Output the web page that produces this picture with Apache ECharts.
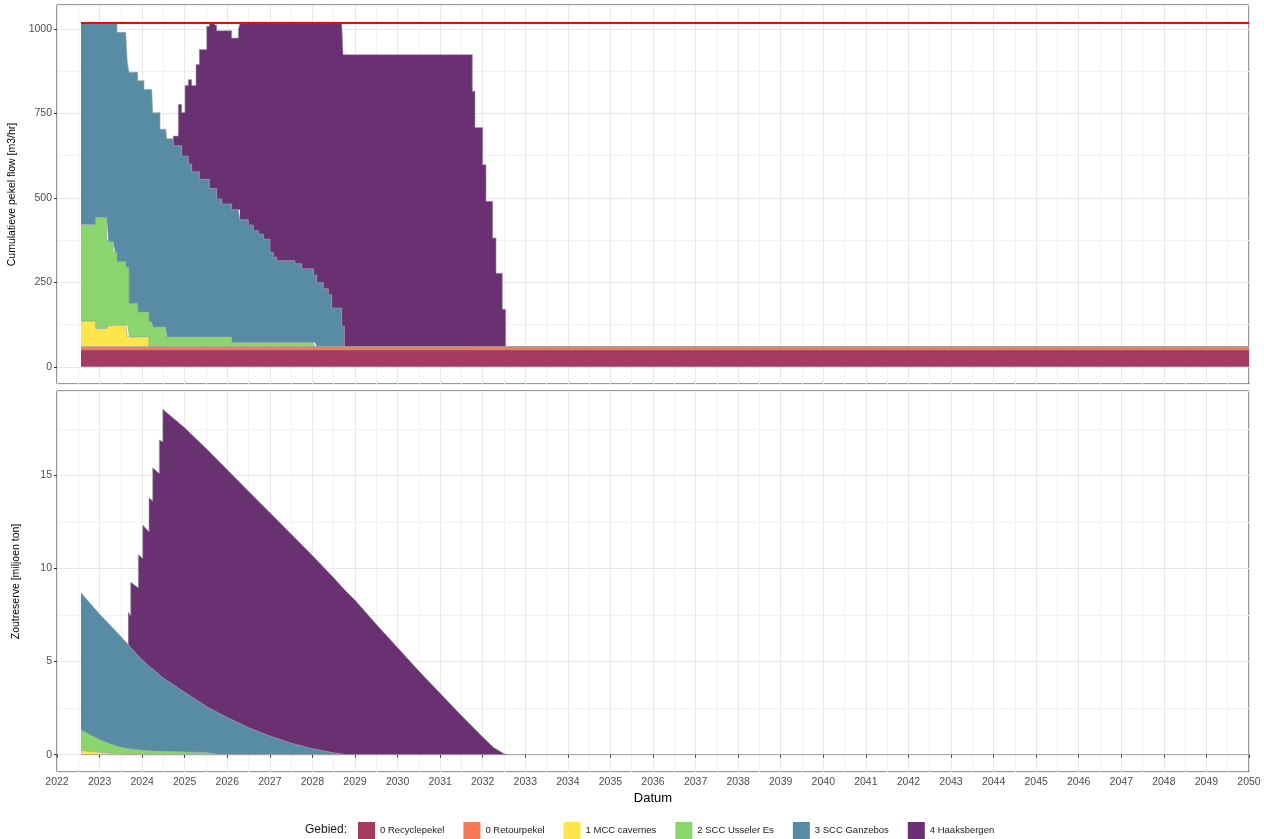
<!DOCTYPE html>
<html lang="nl">
<head>
<meta charset="utf-8" />
<title>Cumulatieve pekel flow en zoutreserve</title>
<script src="https://cdn.jsdelivr.net/npm/echarts@6.0.0/dist/echarts.min.js"></script>
<style>
  html, body { margin: 0; padding: 0; background: #ffffff; }
  #chart { width: 1264px; height: 839px; }
</style>
</head>
<body>
<div id="chart"></div>
<script>
const FONT = "Liberation Sans, Arial, sans-serif";

// gebieden, in volgorde van stapelen (onder -> boven)
const gebieden = ["0 Recyclepekel", "0 Retourpekel", "1 MCC cavernes", "2 SCC Usseler Es", "3 SCC Ganzebos", "4 Haaksbergen"];
const kleuren = ["#a53a60", "#f57a58", "#fde64b", "#8bd56e", "#588ca5", "#693172"];

// bovenste paneel: pekel flow [m3/hr]
// [jaar, flow] -> flow geldt tot het volgende jaartal; laatste punt = einde
const flowRecycle = [[2022.564, 50], [2050, 50]];
const flowRetour = [[2022.564, 10], [2050, 10]];
const flowMcc = [[2022.564, 75], [2022.909, 53], [2023.167, 61], [2023.362, 63], [2023.65, 28.5], [2024.161, 0]];
const flowUsseler = [
  [2022.564, 286], [2022.909, 329], [2023.167, 257], [2023.205, 249], [2023.322, 218], [2023.362, 216],
  [2023.41, 188], [2023.614, 172], [2023.65, 206.5], [2023.691, 98.5], [2023.895, 73.5], [2024.161, 73],
  [2024.225, 58], [2024.554, 28.5], [2026.104, 12], [2028.06, 0]
];
const flowGanzebos = [
  [2022.564, 597], [2022.909, 576], [2023.167, 640], [2023.205, 648], [2023.322, 679], [2023.614, 695],
  [2023.65, 609], [2023.691, 685], [2024.044, 659], [2024.161, 688], [2024.225, 703], [2024.248, 634],
  [2024.42, 585], [2024.554, 614.5], [2024.577, 586.5], [2024.732, 565.5], [2024.929, 535.5], [2025.084, 511.5],
  [2025.164, 488.5], [2025.343, 466.5], [2025.578, 439.5], [2025.752, 408.5], [2025.869, 393.5], [2026.104, 393],
  [2026.299, 363], [2026.494, 348], [2026.611, 331], [2026.729, 321], [2026.846, 306], [2027.004, 267],
  [2027.081, 253], [2027.161, 242], [2027.591, 233], [2027.748, 218], [2028.021, 200], [2028.06, 212],
  [2028.101, 189], [2028.256, 171], [2028.373, 153], [2028.453, 114], [2028.688, 60], [2028.749, 0]
];
const flowHaaksbergen = [
  [2024.732, 29], [2024.849, 123], [2024.929, 129], [2025.007, 209], [2025.084, 250], [2025.164, 256],
  [2025.265, 318], [2025.343, 384], [2025.517, 453], [2025.578, 490], [2025.705, 484], [2025.752, 498],
  [2025.869, 513], [2026.104, 508], [2026.259, 533], [2026.299, 583], [2026.494, 598], [2026.611, 615],
  [2026.729, 625], [2026.846, 640], [2027.004, 679], [2027.081, 693], [2027.161, 704], [2027.591, 713],
  [2027.748, 728], [2028.021, 746], [2028.101, 769], [2028.256, 787], [2028.373, 805], [2028.453, 844],
  [2028.688, 898], [2028.72, 804], [2028.749, 864], [2031.756, 756], [2031.819, 648], [2032.0, 538],
  [2032.078, 430], [2032.235, 321], [2032.313, 217], [2032.461, 110], [2032.54, 0]
];
const capaciteit = [[2022.564, 1018], [2050, 1018]];

// onderste paneel: zoutreserve [miljoen ton]
const reserveJaren = [
  2022.564, 2022.75, 2023.0, 2023.25, 2023.5, 2023.675, 2023.731, 2023.731, 2023.91, 2023.91,
  2024.013, 2024.013, 2024.161, 2024.161, 2024.248, 2024.248, 2024.403, 2024.403, 2024.485, 2024.485,
  2025.0, 2025.5, 2025.85, 2026.0, 2026.5, 2027.0, 2027.5, 2028.0, 2028.5, 2028.8,
  2029.0, 2029.5, 2030.0, 2030.5, 2031.0, 2031.5, 2032.0, 2032.25, 2032.5, 2032.6
];
const reserveRecycle = [[2022.564, 0], [2050, 0]];
const reserveRetour = [[2022.564, 0], [2050, 0]];
const reserveMcc = [
  0.22, 0.18, 0.13, 0.09, 0.06, 0.05, 0.045, 0.045, 0.035, 0.035,
  0.03, 0.03, 0, 0, null, null, null, null, null, null,
  null, null, null, null, null, null, null, null, null, null,
  null, null, null, null, null, null, null, null, null, null
];
const reserveUsseler = [
  1.12, 0.92, 0.69, 0.49, 0.34, 0.28, 0.265, 0.265, 0.225, 0.225,
  0.21, 0.21, 0.22, 0.22, 0.2, 0.2, 0.19, 0.19, 0.18, 0.18,
  0.15, 0.12, 0, null, null, null, null, null, null, null,
  null, null, null, null, null, null, null, null, null, null
];
const reserveGanzebos = [
  7.35, 7.1, 6.73, 6.37, 5.95, 5.58, 5.44, 5.44, 5.04, 5.04,
  4.83, 4.83, 4.53, 4.53, 4.4, 4.4, 4.11, 4.11, 3.95, 3.95,
  3.2, 2.48, 2.17, 2.0, 1.45, 1.0, 0.62, 0.32, 0.1, 0,
  null, null, null, null, null, null, null, null, null, null
];
const reserveHaaksbergen = [
  null, null, null, null, null, 1.74, 1.72, 3.51, 3.66, 5.45,
  5.47, 7.26, 7.22, 9.05, 9.02, 10.81, 10.8, 12.6, 12.68, 14.42,
  14.2, 13.85, 13.48, 13.3, 12.7, 12.0, 11.23, 10.38, 9.4, 8.75,
  8.3, 7.0, 5.75, 4.5, 3.3, 2.1, 0.95, 0.4, 0.05, 0
];

// asbereik en ticks
const jaarAs = { min: 2022, max: 2050, stap: 1 };
const flowAs = { min: -51, max: 1071, stap: 250 };
const flowTicks = [0, 250, 500, 750, 1000];
const reserveAs = { min: -0.93, max: 19.53, stap: 5 };
const reserveTicks = [0, 5, 10, 15];

// waarde van een stapreeks op een jaartal (null buiten het bereik)
function stapWaarde(stappen, jaar) {
  if (jaar < stappen[0][0] || jaar > stappen[stappen.length - 1][0]) return null;
  let waarde = null;
  for (let i = 0; i < stappen.length && stappen[i][0] <= jaar; i++) {
    waarde = stappen[i][1];
  }
  return waarde;
}

const flowReeksen = [flowRecycle, flowRetour, flowMcc, flowUsseler, flowGanzebos, flowHaaksbergen];
const flowJaren = Array.from(new Set([].concat(...flowReeksen.map((r) => r.map((p) => p[0]))))).sort((a, b) => a - b);

const rand = { color: "#9c9c9c", width: 0.6 };

function xAs(gridIndex, metLabels) {
  return {
    type: "value",
    gridIndex: gridIndex,
    position: "bottom",
    min: jaarAs.min,
    max: jaarAs.max,
    interval: jaarAs.stap,
    name: metLabels ? "Datum" : "",
    nameLocation: "middle",
    nameGap: 20,
    nameTextStyle: { fontSize: 13, color: "#000", fontFamily: FONT },
    axisLine: { show: false },
    axisTick: { show: metLabels, length: 3, lineStyle: { color: "#333" } },
    axisLabel: { show: metLabels, color: "#4d4d4d", fontSize: 10.5, margin: 5, fontFamily: FONT, formatter: (v) => String(v) },
    splitLine: { show: true, lineStyle: { color: "#e8e8e8", width: 1 } },
    minorTick: { show: false, splitNumber: 2 },
    minorSplitLine: { show: true, lineStyle: { color: "#f1f1f1", width: 1 } }
  };
}

// hulpas: alleen de lichte tussenlijnen
function yTussen(gridIndex, bereik) {
  return {
    type: "value",
    gridIndex: gridIndex,
    position: "left",
    min: bereik.min,
    max: bereik.max,
    minInterval: bereik.stap / 2,
    maxInterval: bereik.stap / 2,
    axisLine: { show: false },
    axisTick: { show: false },
    axisLabel: { show: false },
    splitLine: { show: true, lineStyle: { color: "#f1f1f1", width: 1 } }
  };
}

function yAs(gridIndex, bereik, ticks, naam) {
  return {
    type: "value",
    gridIndex: gridIndex,
    position: "left",
    min: bereik.min,
    max: bereik.max,
    minInterval: bereik.stap,
    maxInterval: bereik.stap,
    name: naam,
    nameLocation: "middle",
    nameGap: 35,
    nameTextStyle: { fontSize: 10.5, color: "#000", fontFamily: FONT },
    axisLine: { show: false },
    axisTick: { show: true, length: 3, customValues: ticks, lineStyle: { color: "#333" } },
    axisLabel: {
      show: true,
      customValues: ticks,
      color: "#4d4d4d",
      fontSize: 10.5,
      margin: 5,
      fontFamily: FONT,
      formatter: (v) => (ticks.indexOf(v) >= 0 ? String(v) : "")
    },
    splitLine: { show: true, lineStyle: { color: "#e8e8e8", width: 1 } }
  };
}

const series = [];

// bovenste paneel: gestapelde stappen
flowReeksen.forEach((stappen, i) => {
  series.push({
    name: gebieden[i],
    type: "line",
    xAxisIndex: 0,
    yAxisIndex: 1,
    stack: "flow",
    step: "end",
    symbol: "none",
    color: kleuren[i],
    encode: { x: 1, y: 0 },
    lineStyle: rand,
    areaStyle: { color: kleuren[i], opacity: 1 },
    data: flowJaren.map((j) => [stapWaarde(stappen, j), j])
  });
});
series.push({
  name: "Capaciteit",
  type: "line",
  xAxisIndex: 0,
  yAxisIndex: 1,
  symbol: "none",
  z: 5,
  lineStyle: { color: "#ff0000", width: 2 },
  data: capaciteit
});

// onderste paneel: zoutreserve
[reserveRecycle, reserveRetour].forEach((punten, i) => {
  series.push({
    name: gebieden[i],
    type: "line",
    xAxisIndex: 1,
    yAxisIndex: 3,
    symbol: "none",
    color: kleuren[i],
    lineStyle: rand,
    areaStyle: { color: kleuren[i], opacity: 1 },
    data: punten
  });
});
[reserveMcc, reserveUsseler, reserveGanzebos, reserveHaaksbergen].forEach((waarden, k) => {
  const i = k + 2;
  series.push({
    name: gebieden[i],
    type: "line",
    xAxisIndex: 1,
    yAxisIndex: 3,
    stack: "reserve",
    symbol: "none",
    color: kleuren[i],
    encode: { x: 1, y: 0 },
    lineStyle: rand,
    areaStyle: { color: kleuren[i], opacity: 1 },
    data: reserveJaren.map((j, n) => [waarden[n], j])
  });
});

const chart = echarts.init(document.getElementById("chart"), null, { renderer: "canvas" });
chart.setOption({
  animation: false,
  backgroundColor: "#ffffff",
  textStyle: { fontFamily: FONT },
  grid: [
    { left: 57, right: 15, top: 5, height: 379, outerBoundsMode: "none", containLabel: false, show: true, borderColor: "#333", borderWidth: 1 },
    { left: 57, right: 15, top: 391, height: 381, outerBoundsMode: "none", containLabel: false, show: true, borderColor: "#333", borderWidth: 1 }
  ],
  xAxis: [xAs(0, false), xAs(1, true)],
  yAxis: [
    yTussen(0, flowAs),
    yAs(0, flowAs, flowTicks, "Cumulatieve pekel flow [m3/hr]"),
    yTussen(1, reserveAs),
    yAs(1, reserveAs, reserveTicks, "Zoutreserve [miljoen ton]")
  ],
  legend: {
    data: gebieden.map((naam, i) => ({ name: naam, itemStyle: { color: kleuren[i], borderWidth: 0 } })),
    left: 353,
    top: 817,
    icon: "rect",
    itemWidth: 17,
    itemHeight: 17,
    itemGap: 19,
    selectedMode: false,
    textStyle: { fontSize: 9.5, color: "#1a1a1a", fontFamily: FONT }
  },
  graphic: [
    { type: "text", left: 305, top: 824, style: { text: "Gebied:", fontSize: 12, fill: "#1a1a1a", fontFamily: FONT } }
  ],
  series: series
});
</script>
</body>
</html>
